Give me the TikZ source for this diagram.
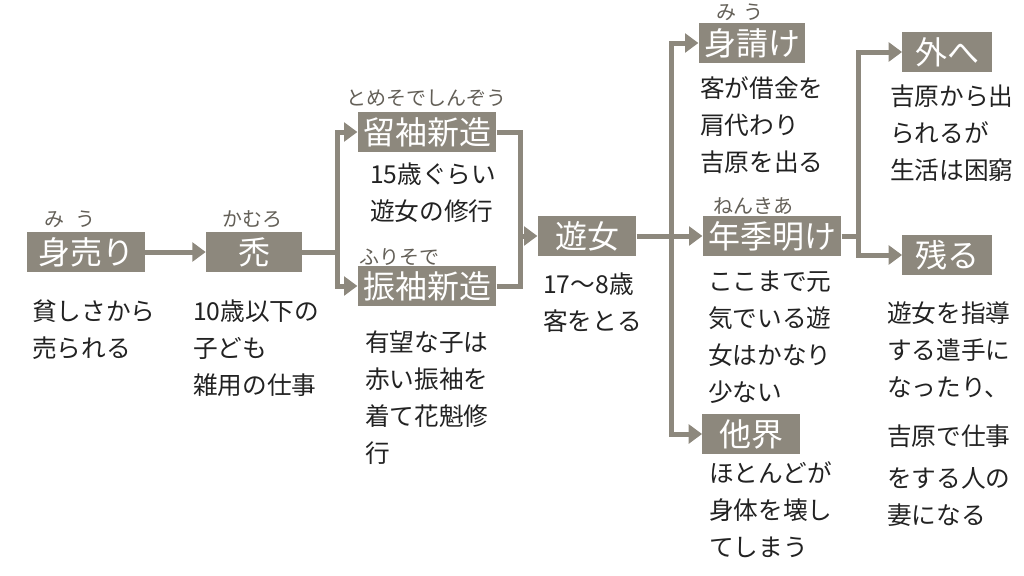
\documentclass[tikz,border=0pt]{standalone}
\usepackage{fontspec}
\setmainfont{Noto Sans CJK JP}
\usetikzlibrary{arrows.meta}
\definecolor{stagegray}{RGB}{141,136,125}
\definecolor{inkgray}{RGB}{34,34,34}
\begin{document}
\begin{tikzpicture}[x=0.75pt,y=-0.75pt,
    stage/.style={fill=stagegray,text=white,inner xsep=4pt,inner ysep=0pt,minimum width=70pt,minimum height=30pt,font=\fontsize{24pt}{24pt}\selectfont},
    ruby/.style={text=stagegray!70!black,inner sep=0pt,font=\fontsize{15pt}{15pt}\selectfont},
    note/.style={text=inkgray,anchor=north west,inner sep=0pt,align=left,font=\fontsize{18.5pt}{27.75pt}\selectfont},
    link/.style={draw=stagegray,line width=3.75pt},
    flow/.style={link,-{Triangle[length=10pt,width=14pt]}}]
    \useasboundingbox (0,0) rectangle (1024,575);
    % stages
    \node[stage,minimum width=88pt] (mi) at (86,252) {身売り};
    \node[stage,minimum width=72pt] (kamuro) at (254,252) {禿};
    \node[stage] (tomesode) at (427,132) {留袖新造};
    \node[stage] (furisode) at (427,286) {振袖新造};
    \node[stage,minimum width=74pt] (yujo) at (587,236) {遊女};
    \node[stage,minimum width=79pt] (miuke) at (752,43) {身請け};
    \node[stage] (nenki) at (772,236) {年季明け};
    \node[stage,minimum width=73pt] (takai) at (751,434) {他界};
    \node[stage,minimum width=67pt] (soto) at (947,52) {外へ};
    \node[stage,minimum width=67pt] (nokoru) at (947,255) {残る};
    % readings
    \node[ruby] (mi-r) at (70,219) {み\hspace{0.55em}う};
    \node[ruby] (kamuro-r) at (252,219) {かむろ};
    \node[ruby] (tomesode-r) at (426,98) {とめそでしんぞう};
    \node[ruby] (furisode-r) at (399,257) {ふりそで};
    \node[ruby] (miuke-r) at (740,12) {み\hspace{0.4em}う};
    \node[ruby] (nenki-r) at (753,206) {ねんきあ};
    % notes
    \node[note] (mi-n) at (32,300) {貧しさから\\売られる};
    \node[note] (kamuro-n) at (193,300) {10歳以下の\\子ども\\雑用の仕事};
    \node[note] (tomesode-n) at (370,163) {15歳ぐらい\\遊女の修行};
    \node[note] (furisode-n) at (365,331) {有望な子は\\赤い振袖を\\着て花魁修\\行};
    \node[note] (yujo-n) at (543,273) {17〜8歳\\客をとる};
    \node[note] (miuke-n) at (700,76) {客が借金を\\肩代わり\\吉原を出る};
    \node[note] (nenki-n) at (708,271) {ここまで元\\気でいる遊\\女はかなり\\少ない};
    \node[note] (takai-n) at (709,461) {ほとんどが\\身体を壊し\\てしまう};
    \node[note] (soto-n) at (890,85) {吉原から出\\られるが\\生活は困窮};
    \node[note] (nokoru-n) at (887,301) {遊女を指導\\する遣手に\\なったり、\\[9pt]吉原で仕事\\[4pt]をする人の\\妻になる};
    % junctions
    \coordinate (j1) at (337,252);
    \coordinate (j2) at (520,236);
    \coordinate (j3) at (671,236);
    \coordinate (j4) at (858,236);
    % connectors
    \draw[flow] (mi) -- (kamuro);
    \draw[link] (kamuro) -- (j1);
    \draw[flow] (j1) |- (tomesode);
    \draw[flow] (j1) |- (furisode);
    \draw[link] (tomesode) -| (j2);
    \draw[link] (furisode) -| (j2);
    \draw[flow] (j2) -- (yujo);
    \draw[link] (yujo) -- (j3);
    \draw[flow] (j3) |- (miuke);
    \draw[flow] (j3) -- (nenki);
    \draw[flow] (j3) |- (takai);
    \draw[link] (nenki) -- (j4);
    \draw[flow] (j4) |- (soto);
    \draw[flow] (j4) |- (nokoru);
\end{tikzpicture}
\end{document}
